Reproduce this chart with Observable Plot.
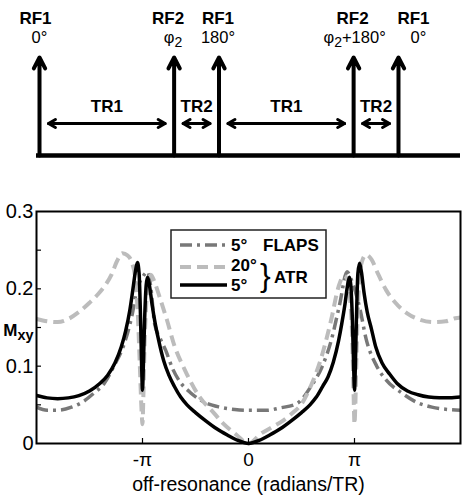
<!DOCTYPE html>
<html><head><meta charset="utf-8">
<script src="https://cdn.jsdelivr.net/npm/d3@7"></script>
<script src="https://cdn.jsdelivr.net/npm/@observablehq/plot@0.6"></script>
<style>
body{margin:0;background:#fff;}
#chart{position:relative;width:466px;height:496px;overflow:hidden;font-family:"Liberation Sans",Arial,sans-serif;}
#chart svg{display:block;}
</style></head><body><div id="chart"></div>
<script>
// ---------- panel a: pulse sequence (time in units of TR2) ----------
const pulseTimes  = [0, 3, 4, 7, 8];
const pulseNames  = ["RF1", "RF2", "RF1", "RF2", "RF1"];
const pulsePhases = ["0°", "φ_{2}", "180°", "φ_{2}+180°", "0°"];
const trStarts = [0, 3, 4, 7];
const trEnds   = [3, 4, 7, 8];
const trNames  = ["TR1", "TR2", "TR1", "TR2"];

// ---------- panel b: off-resonance profiles (x in units of π rad/TR) ----------
const flapsX = [-2, -1.9, -1.8, -1.67, -1.55, -1.46, -1.36, -1.27, -1.17, -1.1, -1.05, -1.0, -0.95, -0.92, -0.886, -0.83, -0.78, -0.72, -0.648, -0.55, -0.41, -0.27, -0.13, 0,
                0.17, 0.3, 0.46, 0.59, 0.69, 0.78, 0.86, 0.93, 0.97, 1.0, 1.05, 1.11, 1.21, 1.3, 1.45, 1.59, 1.73, 1.88, 2.0];
const flapsY = [0.047, 0.043, 0.043, 0.047, 0.055, 0.065, 0.078, 0.1, 0.13, 0.165, 0.2, 0.215, 0.222, 0.2, 0.155, 0.135, 0.12, 0.098, 0.08, 0.066, 0.053, 0.047, 0.044, 0.043,
                0.043, 0.046, 0.052, 0.074, 0.098, 0.133, 0.18, 0.222, 0.212, 0.2, 0.175, 0.135, 0.1, 0.082, 0.065, 0.053, 0.047, 0.044, 0.043];

const atr20X = [-2, -1.9, -1.8, -1.7, -1.6, -1.5, -1.42, -1.35, -1.29, -1.24, -1.19, -1.14, -1.1, -1.07, -1.045, -1.025, -1.008, -1.0, -0.992, -0.98, -0.965, -0.945, -0.92, -0.89, -0.84, -0.77, -0.7, -0.6, -0.46, -0.33, -0.24, -0.12, 0,
                0.12, 0.22, 0.33, 0.42, 0.5, 0.59, 0.68, 0.78, 0.85, 0.9, 0.935, 0.96, 0.98, 0.992, 1.0, 1.008, 1.02, 1.04, 1.07, 1.11, 1.16, 1.22, 1.3, 1.38, 1.5, 1.62, 1.74, 1.86, 1.95, 2.0];
const atr20Y = [0.161, 0.158, 0.157, 0.161, 0.17, 0.182, 0.193, 0.205, 0.219, 0.236, 0.246, 0.243, 0.234, 0.215, 0.17, 0.1, 0.04, 0.025, 0.06, 0.13, 0.18, 0.208, 0.218, 0.21, 0.19, 0.16, 0.127, 0.095, 0.06, 0.04, 0.026, 0.012, 0,
                0.013, 0.021, 0.03, 0.04, 0.051, 0.075, 0.108, 0.16, 0.203, 0.217, 0.212, 0.185, 0.13, 0.06, 0.025, 0.05, 0.12, 0.2, 0.235, 0.244, 0.238, 0.22, 0.198, 0.183, 0.168, 0.16, 0.157, 0.158, 0.162, 0.163];

const atr5X = [-2, -1.9, -1.8, -1.7, -1.6, -1.5, -1.4, -1.33, -1.26, -1.2, -1.16, -1.12, -1.09, -1.065, -1.048, -1.032, -1.018, -1.008, -1.0, -0.992, -0.98, -0.965, -0.952, -0.935, -0.91, -0.88, -0.85, -0.8, -0.75, -0.7, -0.64, -0.58, -0.5, -0.4, -0.3, -0.2, -0.1, 0,
               0.1, 0.2, 0.3, 0.4, 0.5, 0.58, 0.64, 0.7, 0.75, 0.8, 0.85, 0.88, 0.91, 0.935, 0.952, 0.965, 0.98, 0.992, 1.0, 1.008, 1.018, 1.032, 1.048, 1.065, 1.09, 1.12, 1.16, 1.2, 1.26, 1.33, 1.4, 1.5, 1.6, 1.7, 1.8, 1.9, 2.0];
const atr5Y = [0.062, 0.059, 0.058, 0.059, 0.062, 0.068, 0.078, 0.088, 0.104, 0.125, 0.145, 0.172, 0.2, 0.224, 0.234, 0.22, 0.16, 0.1, 0.069, 0.1, 0.16, 0.205, 0.215, 0.205, 0.18, 0.155, 0.135, 0.107, 0.088, 0.074, 0.06, 0.05, 0.04, 0.029, 0.019, 0.011, 0.004, 0,
               0.004, 0.011, 0.019, 0.029, 0.04, 0.05, 0.06, 0.074, 0.086, 0.105, 0.133, 0.155, 0.18, 0.205, 0.215, 0.205, 0.16, 0.1, 0.069, 0.1, 0.16, 0.22, 0.233, 0.222, 0.195, 0.17, 0.148, 0.125, 0.104, 0.09, 0.078, 0.068, 0.063, 0.06, 0.059, 0.059, 0.06];

const seriesNames   = ["FLAPS 5°", "ATR 20°", "ATR 5°"];
const legendAngles  = ["5°", "20°", "5°"];
const xTicks = [-1, 0, 1];
const xTickLabels = ["-π", "0", "π"];
const yTicks = [0, 0.1, 0.2, 0.3];
const yTickLabels = ["0", "0.1", "0.2", "0.3"];
const yMinorTicks = [0.05, 0.1, 0.15, 0.2, 0.25];

// ---------- styles / layout ----------
const FONT = "'Liberation Sans', Arial, Helvetica, sans-serif";
const seriesStroke = ["#787878", "#bcbcbc", "#000000"];
const seriesWidth  = [3.5, 4, 3.5];
const seriesDash   = ["12,5,3,5", "11,6", null];
const nameNudge  = [-4, -6, -1, -1, 15];
const phaseNudge = [0, -1, -1, 1, 20];

const chart = document.getElementById("chart");

// ---------- top: pulse sequence diagram ----------
const pulses = pulseTimes.map((t, i) => ({t, name: pulseNames[i], phase: pulsePhases[i], i}));
const trs = trStarts.map((s, i) => ({s, e: trEnds[i], name: trNames[i]}));
const trY = 0.327, trLabelY = 0.5;

const seq = Plot.plot({
  width: 466, height: 175,
  marginLeft: 36, marginRight: 6, marginTop: 57, marginBottom: 20,
  x: {domain: [-0.067, 9.382], axis: null},
  y: {domain: [0, 1], axis: null},
  style: {fontFamily: FONT, fontSize: "18px", color: "#000", background: "transparent"},
  marks: [
    Plot.ruleY([0], {stroke: "#000", strokeWidth: 4.5}),
    Plot.arrow(pulses, {x1: "t", x2: "t", y1: 0, y2: 1, stroke: "#000", strokeWidth: 4, headLength: 4.6, headAngle: 55}),
    Plot.arrow(trs, {x1: "s", x2: "e", y1: trY, y2: trY, inset: 9, stroke: "#000", strokeWidth: 3, headLength: 4, headAngle: 60}),
    Plot.arrow(trs, {x1: "e", x2: "s", y1: trY, y2: trY, inset: 9, stroke: "#000", strokeWidth: 3, headLength: 4, headAngle: 60}),
    Plot.text(trs, {x: d => (d.s + d.e) / 2, y: trLabelY, text: "name", fontWeight: "bold", fontSize: 17}),
    ...pulses.map(p => Plot.text([p], {x: "t", y: 1, text: "name", dx: nameNudge[p.i], dy: -38.5, fontWeight: "bold", fontSize: 17})),
    ...pulses.map(p => Plot.text([p], {x: "t", y: 1, text: "phase", dx: phaseNudge[p.i], dy: -19.5, fontSize: 16.5}))
  ]
});
chart.appendChild(seq);

// ---------- bottom: profiles ----------
const seriesX = [flapsX, atr20X, atr5X];
const seriesY = [flapsY, atr20Y, atr5Y];
const rows = seriesNames.flatMap((name, k) => seriesX[k].map((x, j) => ({series: name, x, y: seriesY[k][j]})));

const frameW = 424, frameH = 232;
const main = Plot.plot({
  width: 466, height: 321,
  marginLeft: 36, marginRight: 6, marginTop: 36, marginBottom: 53,
  x: {domain: [-2, 2]},
  y: {domain: [0, 0.3]},
  style: {fontFamily: FONT, fontSize: "20px", color: "#000", background: "transparent", overflow: "visible"},
  marks: [
    ...seriesNames.map((name, k) => Plot.line(rows.filter(r => r.series === name), {
      x: "x", y: "y", stroke: seriesStroke[k], strokeWidth: seriesWidth[k],
      strokeDasharray: seriesDash[k] || undefined, strokeLinecap: "butt", curve: "monotone-x"
    })),
    Plot.tickX(xTicks, {x: d => d, insetTop: frameH - 5, stroke: "#000", strokeWidth: 1.2}),
    Plot.tickY(yMinorTicks, {y: d => d, insetRight: frameW - 5, stroke: "#000", strokeWidth: 1.2}),
    Plot.frame({stroke: "#000", strokeWidth: 2}),
    Plot.axisX(xTicks, {tickSize: 0, tickPadding: 9, label: null, tickFormat: d => xTickLabels[xTicks.indexOf(d)], fontSize: 19}),
    Plot.axisY(yTicks, {tickSize: 0, tickPadding: 3, label: null, tickFormat: d => yTickLabels[yTicks.indexOf(d)], fontSize: 20}),
    Plot.text(["off-resonance (radians/TR)"], {frameAnchor: "bottom", lineAnchor: "middle", dy: 41, fontSize: 19.5}),
    Plot.text(["M_{xy}"], {frameAnchor: "left", lineAnchor: "middle", textAnchor: "end", dx: -3, dy: 3, fontWeight: "bold", fontSize: 17})
  ]
});
chart.appendChild(main);

// ---------- legend (inside plot box) ----------
{
  const g = d3.select(main).append("g").attr("font-family", FONT).attr("font-weight", "bold")
    .attr("font-size", 17).attr("text-anchor", "start").attr("fill", "#000");
  g.append("rect").attr("x", 171).attr("y", 55).attr("width", 155).attr("height", 68)
    .attr("fill", "#fff").attr("stroke", "#222").attr("stroke-width", 1.5);
  const rowY = [70, 92, 110];
  seriesNames.forEach((name, k) => {
    g.append("line").attr("x1", 180).attr("x2", 227).attr("y1", rowY[k]).attr("y2", rowY[k])
      .attr("stroke", seriesStroke[k]).attr("stroke-width", seriesWidth[k])
      .attr("stroke-dasharray", seriesDash[k]);
    g.append("text").attr("x", 231).attr("y", rowY[k] - (k === 1 ? 2 : 0)).attr("dy", "0.35em").text(legendAngles[k]);
  });
  g.append("text").attr("x", 263).attr("y", 70).attr("dy", "0.35em").text("FLAPS");
  g.append("text").attr("x", 260).attr("y", 100).attr("dy", "0.35em").attr("font-size", 32).attr("font-weight", "normal").text("}");
  g.append("text").attr("x", 274).attr("y", 102).attr("dy", "0.35em").text("ATR");
}

// ---------- subscripts: "a_{b}" -> a with subscript b ----------
function applySubscripts(svg) {
  d3.select(svg).selectAll("text").each(function () {
    if (this.children.length) return;
    const s = this.textContent;
    if (!s.includes("_{")) return;
    const parts = s.split(/_\{([^}]*)\}/);
    this.textContent = "";
    parts.forEach((p, i) => {
      if (!p) return;
      const t = d3.select(this).append("tspan").text(p);
      if (i % 2 === 1) t.attr("font-size", "85%").attr("baseline-shift", "-30%");
    });
  });
}
applySubscripts(seq);
applySubscripts(main);
</script>
</body></html>
